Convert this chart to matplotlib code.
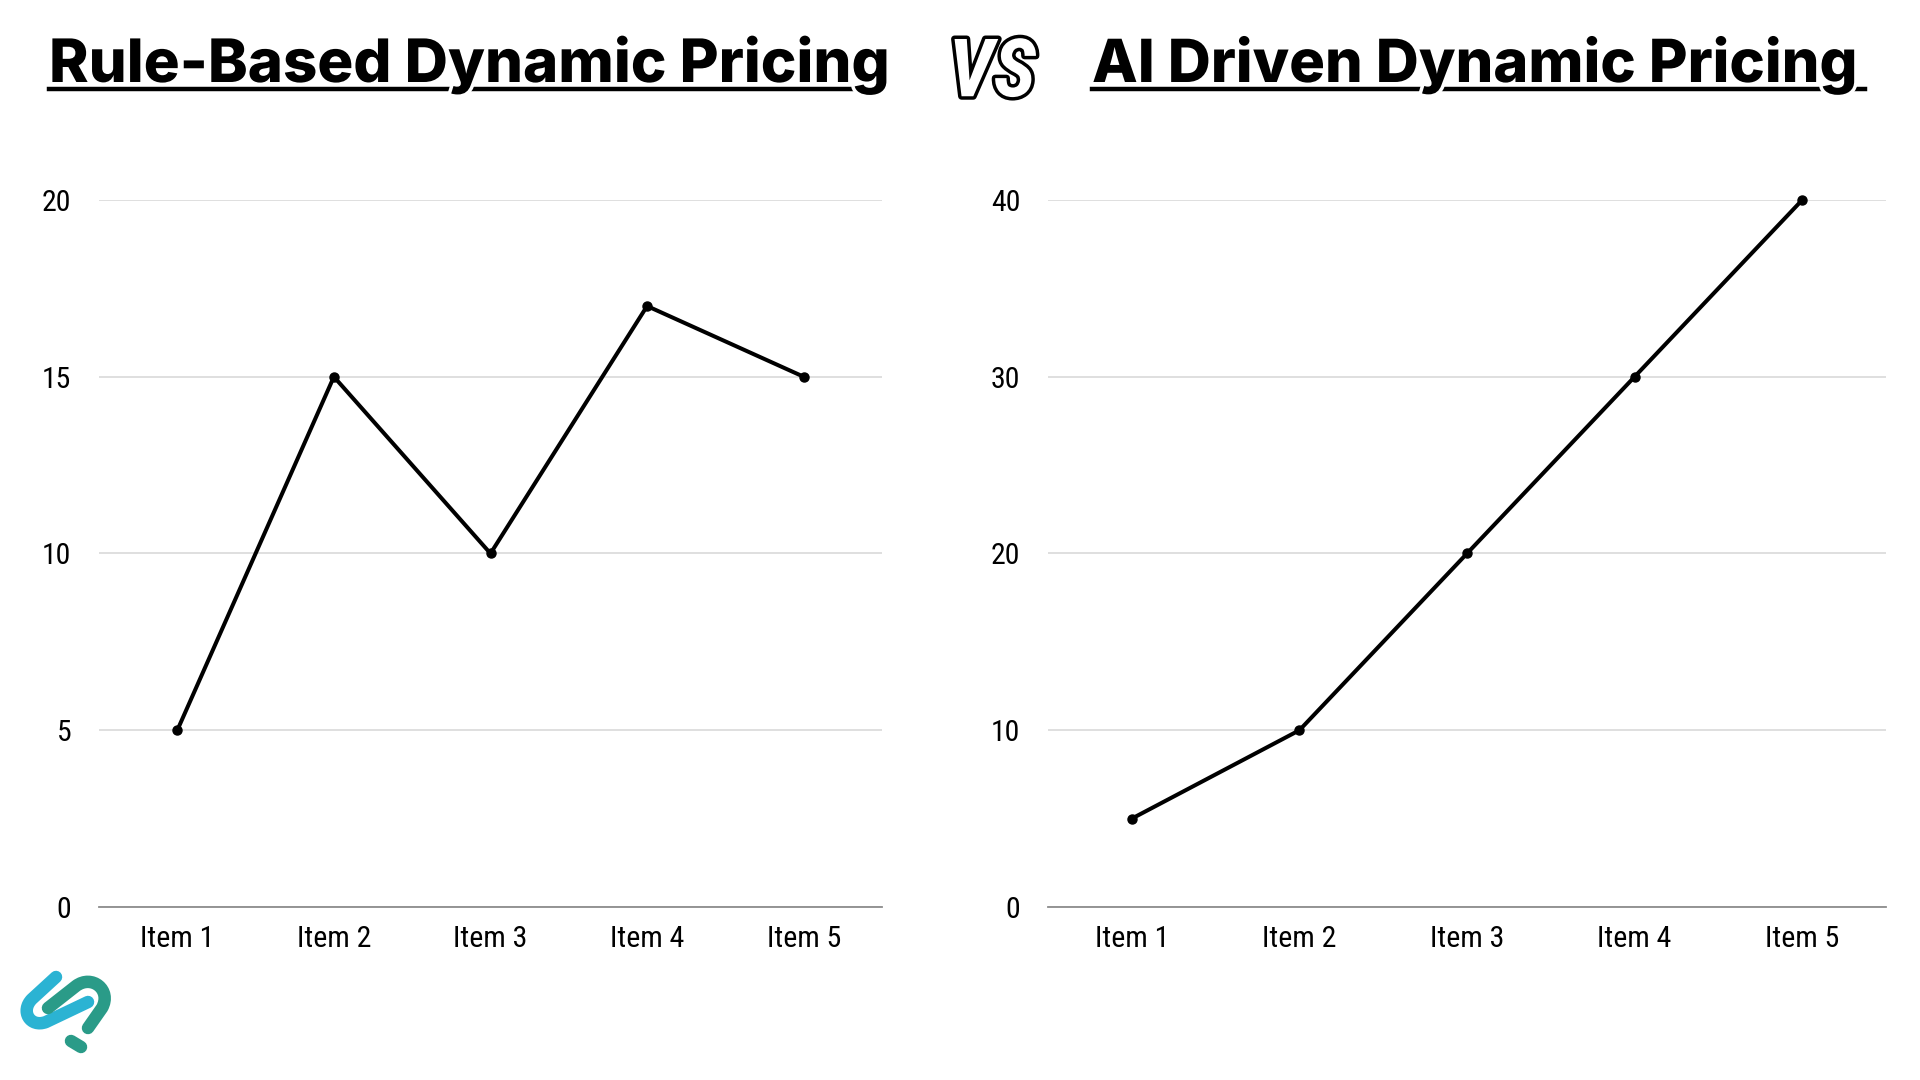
import matplotlib
matplotlib.use("Agg")
import matplotlib.pyplot as plt
from matplotlib import font_manager
from matplotlib.path import Path
from matplotlib.patches import PathPatch
import matplotlib.patheffects as pe

# ---------------- data ----------------
categories = ["Item 1", "Item 2", "Item 3", "Item 4", "Item 5"]
rule_based = [5, 15, 10, 17, 15]
ai_driven = [5, 10, 20, 30, 40]
left_ticks = [0, 5, 10, 15, 20]
right_ticks = [0, 10, 20, 30, 40]
title_left = "Rule-Based Dynamic Pricing"
title_right = "AI Driven Dynamic Pricing"

W, H = 1920, 1080
fig = plt.figure(figsize=(W / 100, H / 100), dpi=100)
fig.patch.set_facecolor("white")

names = {f.name for f in font_manager.fontManager.ttflist}
tick_font = "Roboto"
for cand in ["Roboto Condensed", "Liberation Sans Narrow", "Open Sans Condensed"]:
    if cand in names:
        tick_font = cand
        break
title_font = "Inter" if "Inter" in names else "Lato"


def fx(x):
    return x / W


def fy(y):
    return 1 - y / H


def make_axes(x0, x1, y0, y1, values, ticks):
    ax = fig.add_axes([fx(x0), fy(y1), fx(x1) - fx(x0), (y1 - y0) / H])
    xs = list(range(len(categories)))
    ax.plot(xs, values, color="black", lw=2.9, marker="o", ms=6.5,
            solid_joinstyle="miter", zorder=3, clip_on=False)
    ax.set_xlim(-0.5, len(categories) - 0.5)
    ax.set_ylim(ticks[0], ticks[-1])
    ax.set_yticks(ticks)
    ax.set_xticks(xs)
    ax.set_xticklabels(categories)
    for s in ["top", "right", "left"]:
        ax.spines[s].set_visible(False)
    ax.spines["bottom"].set_color("#8c8c8c")
    ax.spines["bottom"].set_linewidth(1.3)
    ax.grid(axis="y", color="#d6d6d6", lw=1.1)
    ax.set_axisbelow(True)
    ax.tick_params(axis="both", length=0, labelsize=21.5, colors="black")
    ax.tick_params(axis="y", pad=20)
    ax.tick_params(axis="x", pad=13)
    for lab in ax.get_xticklabels() + ax.get_yticklabels():
        lab.set_fontfamily(tick_font)
        lab.set_fontstretch("condensed")
    return ax


make_axes(99, 882, 200, 907, rule_based, left_ticks)
make_axes(1048, 1886, 200, 907, ai_driven, right_ticks)

# ---------------- titles ----------------
renderer = fig.canvas.get_renderer()


def title(txt, x0, target_w, baseline, ul_w):
    fig.add_artist(plt.Line2D([fx(x0), fx(x0 + ul_w)], [fy(89), fy(89)],
                              color="black", lw=3.2, transform=fig.transFigure,
                              zorder=1))
    t = fig.text(fx(x0), fy(baseline), txt, fontsize=44, fontweight="heavy",
                 family=title_font, color="black", ha="left", va="baseline",
                 zorder=2)
    bb = t.get_window_extent(renderer)
    t.set_fontsize(44 * target_w / bb.width)
    t.set_path_effects([pe.Stroke(linewidth=5, foreground="white"), pe.Normal()])
    return t


title(title_left, 49, 840, 82, 834)
title(title_right, 1092, 765, 82, 773)

# ---------------- VS ----------------
fx_eff = [pe.Stroke(linewidth=5, foreground="black"), pe.Normal()]
fig.text(fx(992), fy(74), "VS", fontsize=58, fontweight="bold", style="italic",
         family=tick_font, fontstretch="condensed", color="white",
         ha="center", va="center", path_effects=fx_eff)

# ---------------- logo ----------------


def stroke_path(verts, codes, color):
    p = Path([(fx(x), fy(y)) for x, y in verts], codes)
    patch = PathPatch(p, facecolor="none", edgecolor=color, lw=9,
                      capstyle="round", joinstyle="round",
                      transform=fig.transFigure)
    fig.add_artist(patch)


cyan = "#2bb3d3"
teal = "#2a9b88"
stroke_path([(56, 977), (32, 999), (20, 1011), (30, 1028), (46, 1022), (88, 1002)],
            [Path.MOVETO, Path.LINETO, Path.CURVE4, Path.CURVE4, Path.CURVE4, Path.LINETO],
            cyan)
stroke_path([(48, 1008), (76, 986), (92, 974), (112, 990), (102, 1008), (88, 1028)],
            [Path.MOVETO, Path.LINETO, Path.CURVE4, Path.CURVE4, Path.CURVE4, Path.LINETO],
            teal)
stroke_path([(71, 1041), (81, 1047)], [Path.MOVETO, Path.LINETO], teal)

fig.savefig("out.png", dpi=100, facecolor="white")
